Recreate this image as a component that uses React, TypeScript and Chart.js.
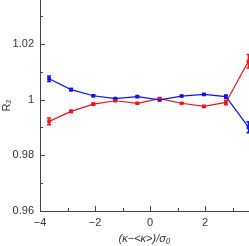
import React, { useEffect, useRef } from "react";
import { Chart, registerables } from "chart.js";

Chart.register(...registerables);

const xValues = [-3.67, -2.87, -2.06, -1.26, -0.46, 0.35, 1.15, 1.96, 2.76, 3.58];
const blueValues = [1.0075, 1.0036, 1.0014, 1.0004, 1.0011, 0.9999, 1.0013, 1.0019, 1.0011, 0.9901];
const blueErrors = [0.001, 0.0004, 0.0003, 0.0002, 0.0002, 0.0002, 0.0002, 0.0002, 0.0006, 0.002];
const redValues = [0.9922, 0.9958, 0.9984, 0.9996, 0.9987, 1.0004, 0.9987, 0.9976, 0.999, 1.0138];
const redErrors = [0.0012, 0.0004, 0.0003, 0.0002, 0.0002, 0.0002, 0.0002, 0.0002, 0.0008, 0.0024];
const yLabelValues = [0.96, 0.98, 1.0, 1.02];
const xLabelValues = [-4, -2, 0, 2];

const BLUE = "#0a14f0";
const RED = "#f0141e";
const AXIS = "#444";
const FONT = "'Liberation Sans', Arial, sans-serif";

const errorBarPlugin = {
  id: "errorBars",
  afterDatasetsDraw(chart: any) {
    const ctx = chart.ctx;
    const xs = chart.scales.x;
    const ys = chart.scales.y;
    const sets = [
      { v: blueValues, e: blueErrors, c: BLUE },
      { v: redValues, e: redErrors, c: RED },
    ];
    ctx.save();
    ctx.lineWidth = 1.5;
    for (const s of sets) {
      ctx.strokeStyle = s.c;
      s.v.forEach((v, i) => {
        const px = xs.getPixelForValue(xValues[i]);
        const y1 = ys.getPixelForValue(v - s.e[i]);
        const y2 = ys.getPixelForValue(v + s.e[i]);
        ctx.beginPath();
        ctx.moveTo(px, y1);
        ctx.lineTo(px, y2);
        ctx.moveTo(px - 2, y1);
        ctx.lineTo(px + 2, y1);
        ctx.moveTo(px - 2, y2);
        ctx.lineTo(px + 2, y2);
        ctx.stroke();
      });
    }
    ctx.restore();
  },
};

const tickPlugin = {
  id: "inTicks",
  afterDraw(chart: any) {
    const ctx = chart.ctx;
    const { left, bottom } = chart.chartArea;
    const xs = chart.scales.x;
    const ys = chart.scales.y;
    ctx.save();
    ctx.strokeStyle = AXIS;
    ctx.lineWidth = 1;
    ys.ticks.forEach((t: any) => {
      const major = yLabelValues.some((v) => Math.abs(v - t.value) < 1e-6);
      const py = Math.round(ys.getPixelForValue(t.value)) + 0.5;
      ctx.beginPath();
      ctx.moveTo(left, py);
      ctx.lineTo(left + (major ? 5 : 3), py);
      ctx.stroke();
    });
    xs.ticks.forEach((t: any) => {
      const major = xLabelValues.some((v) => Math.abs(v - t.value) < 1e-6);
      const px = Math.round(xs.getPixelForValue(t.value)) + 0.5;
      ctx.beginPath();
      ctx.moveTo(px, bottom);
      ctx.lineTo(px, bottom - (major ? 5 : 3));
      ctx.stroke();
    });
    ctx.restore();
  },
};

export default function App() {
  const ref = useRef<HTMLCanvasElement>(null);
  useEffect(() => {
    document.body.style.margin = "0";
    const chart = new Chart(ref.current!, {
      type: "line",
      data: {
        datasets: [
          {
            data: xValues.map((x, i) => ({ x, y: blueValues[i] })),
            borderColor: BLUE,
            backgroundColor: BLUE,
            borderWidth: 1.2,
            pointRadius: 1.7,
            pointStyle: "rect",
            clip: false,
          },
          {
            data: xValues.map((x, i) => ({ x, y: redValues[i] })),
            borderColor: RED,
            backgroundColor: RED,
            borderWidth: 1.2,
            pointRadius: 1.7,
            pointStyle: "rect",
            clip: false,
          },
        ],
      },
      options: {
        animation: false,
        responsive: false,
        devicePixelRatio: 1,
        layout: { padding: 0, autoPadding: false },
        plugins: { legend: { display: false }, tooltip: { enabled: false } },
        scales: {
          x: {
            type: "linear",
            min: -4,
            max: 3.6,
            grid: { display: false, drawTicks: false },
            border: { display: true, color: AXIS, width: 1 },
            afterFit: (s: any) => {
              s.height = 35;
              s.paddingLeft = 0;
              s.paddingRight = 0;
            },
            ticks: {
              stepSize: 1,
              includeBounds: false,
              padding: 5,
              maxRotation: 0,
              autoSkip: false,
              color: "#333",
              font: { family: FONT, size: 11 },
              callback: (v: any) => {
                const n = Number(v);
                if (!xLabelValues.some((a) => Math.abs(a - n) < 1e-6)) return "";
                return n < 0 ? "\u2212" + Math.abs(n) : String(n);
              },
            },
            title: {
              display: true,
              text: "(\u03ba\u2212<\u03ba>)/\u03c3\u2080",
              color: "#333",
              font: { family: FONT, size: 11, style: "italic" },
              padding: 0,
            },
          },
          y: {
            type: "linear",
            min: 0.96,
            max: 1.0358,
            grid: { display: false, drawTicks: false },
            border: { display: true, color: AXIS, width: 1 },
            afterFit: (s: any) => {
              s.width = 40;
              s.paddingTop = 0;
              s.paddingBottom = 0;
            },
            ticks: {
              stepSize: 0.01,
              includeBounds: false,
              padding: 6,
              autoSkip: false,
              color: "#333",
              font: { family: FONT, size: 11 },
              callback: (v: any) => {
                const n = Number(v);
                if (!yLabelValues.some((a) => Math.abs(a - n) < 1e-6)) return "";
                return Math.abs(n - 1) < 1e-6 ? "1" : n.toFixed(2);
              },
            },
            title: {
              display: true,
              text: "R\u2082",
              color: "#333",
              font: { family: FONT, size: 11 },
              padding: { top: 0, bottom: 0, left: 0, right: 0 },
            },
          },
        },
      },
      plugins: [errorBarPlugin, tickPlugin],
    } as any);
    return () => chart.destroy();
  }, []);
  return <canvas ref={ref} width={249} height={246} style={{ display: "block" }} />;
}
